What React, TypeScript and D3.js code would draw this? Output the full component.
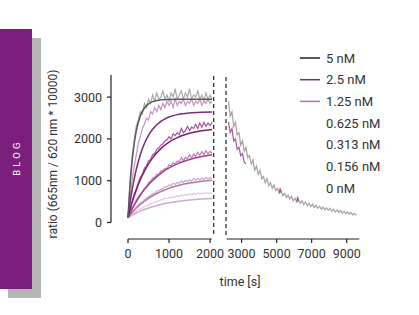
import React from 'react';
import * as d3 from 'd3';

const W = 419;
const H = 315;

const yTicks = [0, 1000, 2000, 3000];
const xTicksLeft = [0, 1000, 2000];
const xTicksRight = [3000, 5000, 7000, 9000];
const legendLabels = ['5 nM', '2.5 nM', '1.25 nM', '0.625 nM', '0.313 nM', '0.156 nM', '0 nM'];
const legendColors = ['#222222', '#7b2b7b', '#b474b0', null, null, null, null];

// association phase (raw signal every 50 s)
const assocTimes = d3.range(0, 2051, 50);
const raw5 = [150, 950, 1550, 1950, 2300, 2450, 2650, 2600, 2850, 2750, 2950, 2850, 3050, 2900, 3100, 2950, 3000, 3150, 2950, 3050, 2900, 3100, 3000, 3200, 2950, 3050, 3150, 2950, 3100, 3000, 3200, 2950, 3050, 3000, 3150, 2950, 3050, 2900, 3100, 2950, 3050, 2950];
const raw25 = [130, 600, 1000, 1350, 1600, 1900, 2050, 2250, 2350, 2500, 2450, 2650, 2600, 2750, 2650, 2800, 2700, 2850, 2750, 2900, 2800, 2900, 2750, 2950, 2800, 2900, 2850, 2950, 2800, 2900, 2850, 2950, 2800, 2900, 2850, 2950, 2800, 2900, 2850, 2950, 2850, 2900];
const raw125 = [120, 330, 500, 680, 800, 950, 1080, 1150, 1300, 1350, 1480, 1500, 1620, 1650, 1750, 1780, 1850, 1880, 1950, 1980, 2050, 2000, 2120, 2080, 2150, 2100, 2250, 2150, 2200, 2300, 2200, 2280, 2250, 2350, 2250, 2380, 2280, 2400, 2300, 2380, 2320, 2400];
const raw0625 = [120, 240, 340, 430, 530, 600, 680, 740, 820, 860, 950, 980, 1060, 1080, 1150, 1160, 1230, 1240, 1300, 1290, 1380, 1350, 1430, 1400, 1470, 1450, 1550, 1480, 1560, 1530, 1620, 1540, 1640, 1580, 1680, 1600, 1700, 1620, 1720, 1640, 1700, 1660];
const raw0313 = [120, 190, 250, 310, 360, 420, 460, 500, 540, 580, 620, 640, 690, 700, 760, 760, 800, 810, 860, 850, 900, 880, 940, 910, 960, 940, 990, 960, 1010, 980, 1030, 990, 1050, 1010, 1060, 1020, 1070, 1030, 1080, 1040, 1070, 1050];
const raw0156 = [120, 160, 200, 230, 270, 300, 320, 350, 380, 400, 420, 450, 460, 490, 500, 520, 540, 550, 580, 570, 600, 590, 620, 610, 640, 620, 660, 640, 670, 650, 690, 660, 700, 670, 710, 680, 700, 690, 720, 690, 710, 700];

// fitted association curves
const fitTimes = [0, 50, 100, 150, 200, 300, 400, 500, 600, 800, 1000, 1200, 1500, 1800, 2050];
const fit5 = [120, 905, 1473, 1883, 2179, 2548, 2740, 2840, 2893, 2934, 2945, 2949, 2950, 2950, 2950];
const fit25 = [120, 472, 775, 1036, 1261, 1620, 1888, 2086, 2232, 2420, 2524, 2581, 2622, 2639, 2645];
const fit125 = [120, 306, 476, 632, 773, 1021, 1228, 1401, 1546, 1768, 1924, 2032, 2135, 2195, 2226];
const fit0625 = [120, 224, 322, 413, 499, 653, 787, 906, 1008, 1176, 1306, 1403, 1509, 1579, 1620];
const fit0313 = [120, 180, 237, 290, 340, 430, 509, 579, 640, 741, 818, 878, 944, 988, 1013];
const fit0156 = [120, 149, 177, 202, 227, 271, 311, 346, 377, 429, 470, 502, 538, 563, 577];

// dissociation phase
const dissocTimes = d3.range(2250, 9551, 100);
const dissoc5 = [2900, 2550, 2650, 2300, 2400, 2100, 2150, 1850, 1950, 1700, 1800, 1550, 1600, 1400, 1500, 1250, 1350, 1150, 1250, 1050, 1100, 950, 1050, 880, 950, 820, 900, 760, 820, 700, 760, 640, 700, 600, 660, 560, 620, 520, 580, 490, 540, 460, 520, 430, 490, 400, 460, 380, 440, 360, 410, 340, 390, 320, 370, 300, 350, 290, 340, 270, 320, 250, 300, 240, 290, 220, 270, 210, 260, 200, 240, 180, 220, 170];
const dissoc25TimesA = [2250, 2350, 2450, 2550, 2650, 2750, 2850, 2950, 3050, 3150, 3250];
const dissoc25A = [2400, 2150, 2250, 1950, 2000, 1750, 1800, 1600, 1650, 1450, 1400];
const dissoc25TimesB = [5150, 5200, 5250];
const dissoc25B = [700, 820, 720];
const dissoc25TimesC = [6150, 6200, 6250];
const dissoc25C = [500, 620, 520];

const rawSeries = [
  { v: raw0156, c: '#e2c8e2' },
  { v: raw0313, c: '#d2a4cf' },
  { v: raw0625, c: '#c47cb8' },
  { v: raw125, c: '#a853a2' },
  { v: raw25, c: '#c294c2' },
  { v: raw5, c: '#a9a9a9' },
];
const fitSeries = [
  { v: fit0156, c: '#cfaacf' },
  { v: fit0313, c: '#b27aa8' },
  { v: fit0625, c: '#a13e91' },
  { v: fit125, c: '#7a1f74' },
  { v: fit25, c: '#7b2b7b' },
  { v: fit5, c: '#595959' },
];

export default function App() {
  const y = d3.scaleLinear().domain([0, 3500]).range([222.5, 76.2]);
  const x1 = d3.scaleLinear().domain([0, 2040]).range([128, 211.7]);
  const x2 = d3.scaleLinear().domain([2150, 9720]).range([226.7, 359.3]);

  const lineA = (ts: number[], vs: number[], curve?: any) => {
    const l = d3.line<number>().x((_, i) => x1(ts[i])).y((d) => y(d));
    if (curve) l.curve(curve);
    return l(vs) || '';
  };
  const lineB = (ts: number[], vs: number[]) =>
    d3.line<number>().x((_, i) => x2(ts[i])).y((d) => y(d))(vs) || '';

  const font = 'Roboto, "DejaVu Sans", sans-serif';
  const txt = '#333';
  const axisY = 239;
  const fs = 12.5;

  return (
    <div style={{ position: 'fixed', left: 0, top: 0 }}>
      <svg width={W} height={H} style={{ display: 'block', background: '#fff' }} fontFamily={font}>
        {/* side tab */}
        <rect x={8} y={38} width={33} height={260} fill="#b5b5b5" />
        <rect x={0} y={29} width={32} height={260} fill="#7b1f7c" />
        <text
          transform="translate(19.5,157.5) rotate(-90)"
          textAnchor="middle"
          fill="#fff"
          fontSize={9.5}
          letterSpacing={3.2}
        >
          BLOG
        </text>

        {/* y label */}
        <text
          transform="translate(56.5,154) rotate(-90)"
          textAnchor="middle"
          fill={txt}
          fontSize={12}
        >
          ratio (665nm / 620 nm * 10000)
        </text>

        {/* raw data */}
        {rawSeries.map((s, i) => (
          <path key={'r' + i} d={lineA(assocTimes, s.v)} fill="none" stroke={s.c} strokeWidth={1.2} />
        ))}
        <path d={lineB(dissocTimes, dissoc5)} fill="none" stroke="#a3a3a3" strokeWidth={1.2} />
        <path d={lineB(dissoc25TimesA, dissoc25A)} fill="none" stroke="#a45aa0" strokeWidth={1.2} />
        <path d={lineB(dissoc25TimesB, dissoc25B)} fill="none" stroke="#a45aa0" strokeWidth={1.2} />
        <path d={lineB(dissoc25TimesC, dissoc25C)} fill="none" stroke="#a45aa0" strokeWidth={1.2} />

        {/* fits */}
        {fitSeries.map((s, i) => (
          <path key={'f' + i} d={lineA(fitTimes, s.v, d3.curveMonotoneX)} fill="none" stroke={s.c} strokeWidth={1.5} />
        ))}

        {/* y axis */}
        <line x1={111} x2={111} y1={75} y2={y(0)} stroke="#222" strokeWidth={1.2} />
        {yTicks.map((t) => (
          <g key={'yt' + t}>
            <line x1={107} x2={111} y1={y(t)} y2={y(t)} stroke="#222" strokeWidth={1.2} />
            <text x={102} y={y(t) + 4.5} textAnchor="end" fontSize={fs} fill={txt}>
              {t}
            </text>
          </g>
        ))}

        {/* x axis */}
        <line x1={x1(0)} x2={x1(2040)} y1={axisY} y2={axisY} stroke="#222" strokeWidth={1.2} />
        <line x1={x2(2150)} x2={x2(9720)} y1={axisY} y2={axisY} stroke="#222" strokeWidth={1.2} />
        {xTicksLeft.map((t) => (
          <g key={'xl' + t}>
            <line x1={x1(t)} x2={x1(t)} y1={axisY} y2={axisY + 4} stroke="#222" strokeWidth={1.2} />
            <text x={x1(t)} y={axisY + 18.5} textAnchor="middle" fontSize={fs} fill={txt}>
              {t}
            </text>
          </g>
        ))}
        {xTicksRight.map((t) => (
          <g key={'xr' + t}>
            <line x1={x2(t)} x2={x2(t)} y1={axisY} y2={axisY + 4} stroke="#222" strokeWidth={1.2} />
            <text x={x2(t)} y={axisY + 18.5} textAnchor="middle" fontSize={fs} fill={txt}>
              {t}
            </text>
          </g>
        ))}
        <text x={240} y={286} textAnchor="middle" fontSize={fs} fill={txt}>
          time [s]
        </text>

        {/* break lines */}
        <line x1={213.7} x2={213.7} y1={76} y2={237} stroke="#222" strokeWidth={1.2} strokeDasharray="4,3" />
        <line x1={226} x2={226} y1={77} y2={237} stroke="#222" strokeWidth={1.2} strokeDasharray="4,3" />

        {/* legend */}
        {legendLabels.map((lab, i) => {
          const cy = 58 + i * 21.7;
          return (
            <g key={'lg' + i}>
              {legendColors[i] && (
                <line x1={300} x2={320} y1={cy} y2={cy} stroke={legendColors[i] as string} strokeWidth={1.5} />
              )}
              <text x={326} y={cy + 4.5} fontSize={13} fill={txt}>
                {lab}
              </text>
            </g>
          );
        })}
      </svg>
    </div>
  );
}
